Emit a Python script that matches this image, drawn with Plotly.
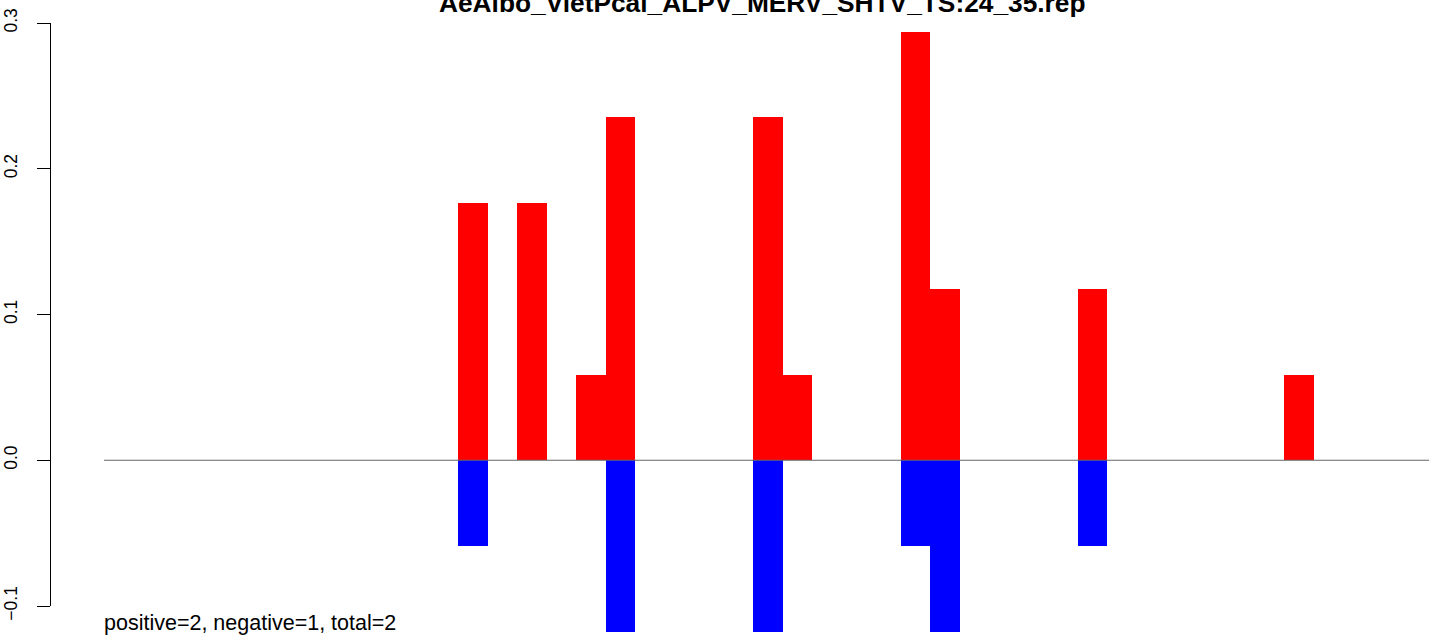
import plotly.graph_objects as go

# ---- data ----
n_bins = 45
total_reads = 17
pos_index = [12, 14, 16, 17, 22, 23, 27, 28, 33, 40]
pos_count = [3, 3, 1, 4, 4, 1, 5, 2, 2, 1]
neg_index = [12, 17, 22, 27, 28, 33]
neg_count = [1, 2, 2, 1, 2, 1]
y_tick_vals = [-0.1, 0.0, 0.1, 0.2, 0.3]
y_tick_text = ["\u22120.1", "0.0", "0.1", "0.2", "0.3"]
title_text = "AeAlbo_VietPcal_ALPV_MERV_SHTV_TS:24_35.rep"
note_text = "positive=2, negative=1, total=2"

W, H = 1429, 637
px_per_bin = 29.5
x0_px = 104
x_range = [-x0_px / px_per_bin, (W - x0_px) / px_per_bin]
px_per_unit = 1457.5
zero_px = 460.25
y_range = [-(H - zero_px) / px_per_unit, zero_px / px_per_unit]

pos_vals = [0.0] * n_bins
for i, c in zip(pos_index, pos_count):
    pos_vals[i] = c / total_reads
neg_vals = [0.0] * n_bins
for i, c in zip(neg_index, neg_count):
    neg_vals[i] = -c / total_reads
xs = [i + 0.5 for i in range(n_bins)]

fig = go.Figure()
fig.add_trace(go.Bar(x=xs, y=pos_vals, width=1, marker=dict(color="#FF0000", line=dict(width=0)),
                     showlegend=False, hoverinfo="skip"))
fig.add_trace(go.Bar(x=xs, y=neg_vals, width=1, marker=dict(color="#0000FF", line=dict(width=0)),
                     showlegend=False, hoverinfo="skip"))
# invisible trace to carry the R-style y axis
fig.add_trace(go.Scatter(x=[0], y=[0], yaxis="y2", mode="markers", marker=dict(opacity=0),
                         showlegend=False, hoverinfo="skip"))

fig.add_shape(type="line", xref="x", yref="y", x0=0, x1=n_bins, y0=0, y1=0,
              line=dict(color="#666666", width=1))

fig.add_annotation(text="<b>" + title_text + "</b>", xref="paper", yref="paper",
                   x=762 / W, y=1 - 3 / H, xanchor="center", yanchor="middle", showarrow=False,
                   font=dict(family="Liberation Sans, Arial", size=26.3, color="black"))
fig.add_annotation(text=note_text, xref="paper", yref="paper",
                   x=(x0_px - 2) / W, y=1 - 623 / H, xanchor="left", yanchor="middle", showarrow=False,
                   font=dict(family="Liberation Sans, Arial", size=21.5, color="black"))

fig.update_layout(
    width=W, height=H,
    margin=dict(l=0, r=0, t=0, b=0, pad=0, autoexpand=False),
    paper_bgcolor="white", plot_bgcolor="rgba(0,0,0,0)",
    barmode="overlay", bargap=0,
    xaxis=dict(visible=False, range=x_range, domain=[0, 1], fixedrange=True, automargin=False),
    yaxis=dict(visible=False, range=y_range, domain=[0, 1], fixedrange=True, automargin=False),
    yaxis2=dict(range=[-0.1, 0.3], domain=[(H - 606) / H, (H - 23) / H], anchor="free",
                position=50 / W, side="left", showline=True, linecolor="black", linewidth=1,
                ticks="outside", ticklen=13, tickwidth=1, tickcolor="black",
                tickvals=y_tick_vals, ticktext=y_tick_text, tickangle=-90, automargin=False,
                ticklabelstandoff=13, showgrid=False, zeroline=False, fixedrange=True,
                tickfont=dict(family="Liberation Sans, Arial", size=17.5, color="black")),
)

fig.write_html("out.html", config={"displayModeBar": False},
               post_script="document.body.style.margin='0';document.body.style.overflow='hidden';")
